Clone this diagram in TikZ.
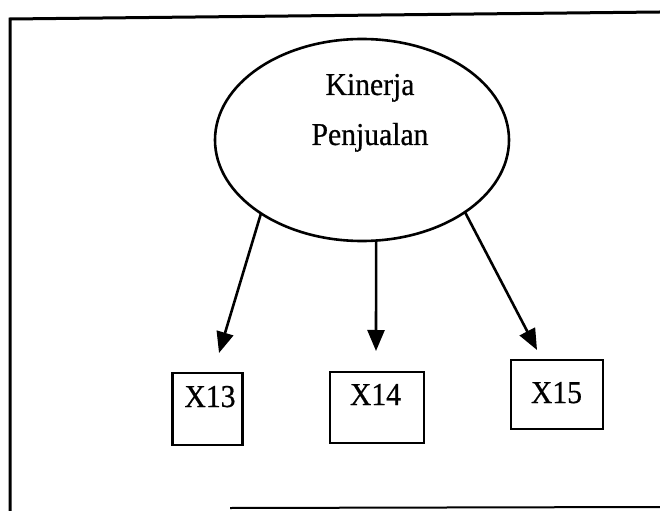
\documentclass[tikz,border=0pt]{standalone}
\usepackage{fontspec}
\setmainfont{Liberation Serif}[FakeStretch=0.93, FakeBold=0.6]
\usetikzlibrary{shapes.geometric,arrows.meta}
\tikzset{
  frameline/.style={line width=3bp},
  latent/.style={ellipse, draw, line width=2.6bp, minimum width=294bp, minimum height=202bp, inner sep=0pt, outer sep=0pt},
  indicator/.style={rectangle, draw, line width=2.8bp, inner sep=0pt, outer sep=0pt},
  lbl/.style={anchor=base, inner sep=0pt, font=\fontsize{32}{38}\selectfont},
  loading/.style={line width=2.6bp, -{Triangle[length=21bp,width=17bp]}}
}
\begin{document}
\begin{tikzpicture}[x=1bp,y=-1bp]
\useasboundingbox (0,0) rectangle (660,511);
% outer frame (left, top and partial bottom edges)
\draw[frameline] (10,511) -- (10,19) -- (660,12);
\draw[line width=2bp] (230,508) -- (660,507);

% latent construct
\node[latent] (kp) at (362,140) {};
\node[lbl] (kp1) at (370,95) {Kinerja};
\node[lbl] (kp2) at (370,145) {Penjualan};

% indicator boxes
\node[indicator, minimum width=70bp, minimum height=72bp] (x13) at (207.7,409) {};
\node[lbl] (x13t) at (210,407) {X13};
\node[indicator, minimum width=94bp, minimum height=71bp] (x14) at (377,407.5) {};
\node[lbl] (x14t) at (375.5,405) {X14};
\node[indicator, minimum width=92bp, minimum height=69bp] (x15) at (557,394.5) {};
\node[lbl] (x15t) at (556.5,403) {X15};

% arrow tips just above the boxes
\coordinate (t13) at (219,353);
\coordinate (t14) at (376,351);
\coordinate (t15) at (537,350);

\draw[loading] (kp.216.9) -- (t13);
\draw[loading] (kp.-82.5) -- (t14);
\draw[loading] (kp.-35.7) -- (t15);
\end{tikzpicture}
\end{document}
